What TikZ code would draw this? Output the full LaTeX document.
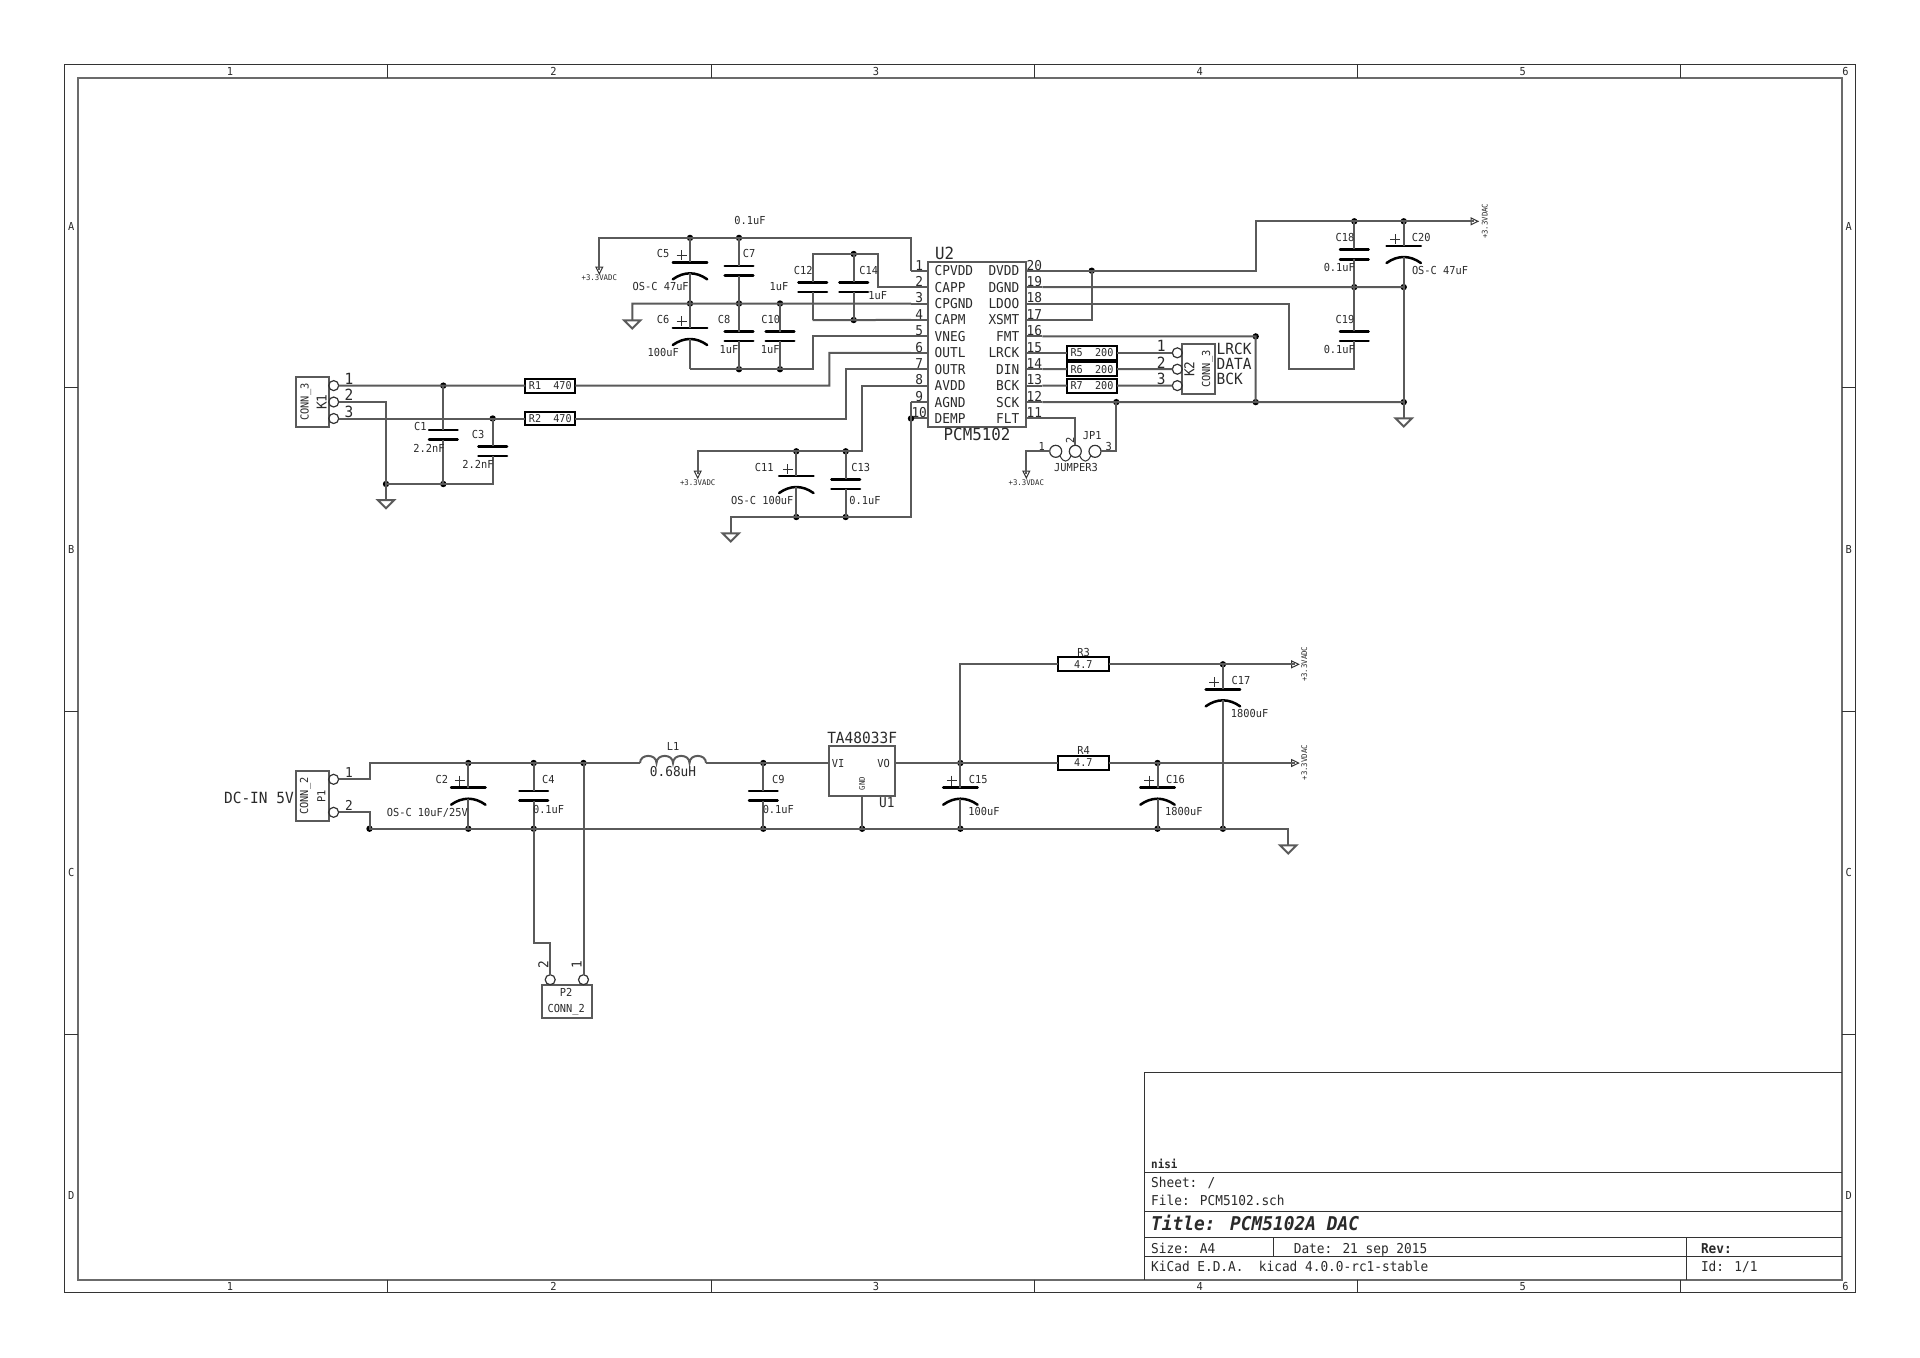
\documentclass[tikz,border=0pt]{standalone}
\usepackage{fontspec}
\setmainfont{DejaVu Sans Mono}[FakeStretch=0.94]
\definecolor{wirec}{HTML}{5A5A5A}
\definecolor{framec}{HTML}{333333}
\definecolor{txtc}{HTML}{2A2A2A}
\tikzset{
  wire/.style={line width=1pt,draw=wirec,line join=miter},
  thinw/.style={line width=.5pt,draw=framec,line join=miter},
  frm/.style={line width=.5pt,draw=framec},
  frmin/.style={line width=1pt,draw=wirec!90},
  plate/.style={line width=1.25pt,draw=black,line cap=round},
  tx/.style={inner sep=0pt,outer sep=0pt,text=txtc},
  fsm/.style={tx,font=\fontsize{3.9}{5}\selectfont,text height=2.84pt,text depth=0pt},
  frs/.style={tx,font=\fontsize{5.4}{6}\selectfont,text height=3.9pt,text depth=0pt},
  lb/.style={tx,font=\fontsize{5.5}{7}\selectfont,text height=4pt,text depth=0pt},
  pn/.style={tx,font=\fontsize{6.8}{8}\selectfont,text height=5pt,text depth=0pt},
  pnb/.style={tx,font=\fontsize{7.7}{9}\selectfont,text height=5.6pt,text depth=0pt},
  big/.style={tx,font=\fontsize{8.4}{10}\selectfont,text height=6.1pt,text depth=0pt},
  tb/.style={tx,anchor=west,font=\fontsize{6.8}{8}\selectfont,text height=5pt,text depth=0pt},
  boxn/.style={draw=wirec,line width=1pt,inner sep=0pt,outer sep=0pt},
  rboxn/.style={draw=black,line width=1pt,inner sep=0pt,outer sep=0pt,frs},
  pinc/.style={circle,draw=framec,line width=.6pt,inner sep=0pt,outer sep=0pt,minimum size=5pt},
  jpc/.style={circle,draw=framec,line width=.6pt,inner sep=0pt,outer sep=0pt,minimum size=6pt},
}
\newcommand\jn[3]{\coordinate (#1) at (#2,#3);\fill[black] (#1) circle (3.2);}
\newcommand\capN[4]{%
  \coordinate (#1t) at (#2,#3);\coordinate (#1b) at (#2,#4);
  \draw[plate] ({#2-14.3},#3) -- ({#2+14.3},#3);
  \draw[plate] ({#2-14.3},#4) -- ({#2+14.3},#4);}
\newcommand\capP[3]{%
  \coordinate (#1t) at (#2,#3);\coordinate (#1b) at (#2,{#3+11});
  \draw[plate] ({#2-17.2},#3) -- ({#2+17.2},#3);
  \draw[plate] ({#2-17.2},{#3+17}) .. controls ({#2-6},{#3+9}) and ({#2+6},{#3+9}) .. ({#2+17.2},{#3+17});
  \draw[thinw] ({#2-13.5},{#3-7}) -- ({#2-3.5},{#3-7});
  \draw[thinw] ({#2-8.5},{#3-12}) -- ({#2-8.5},{#3-2});}
\newcommand\gnd[3]{\coordinate (#1) at (#2,#3);
  \draw[wire] ({#2-8.2},#3) -- ({#2+8.2},#3) -- (#2,{#3+8.2}) -- cycle;}
\newcommand\vflag[3]{\coordinate (#1) at (#2,{#3-4});
  \draw[thinw] ({#2-3.4},{#3-7}) -- ({#2+3.4},{#3-7}) -- (#2,#3) -- cycle;}
\newcommand\hflag[3]{\coordinate (#1) at ({#2-4},#3);
  \draw[thinw] ({#2-7},{#3-3.4}) -- ({#2-7},{#3+3.4}) -- (#2,#3) -- cycle;}
\newcommand\bx[7][boxn]{%
  \pgfmathsetmacro\bxw{(#5-#3)*.5}\pgfmathsetmacro\bxh{(#6-#4)*.5}%
  \pgfmathsetmacro\bxx{(#5+#3)/2}\pgfmathsetmacro\bxy{(#6+#4)/2}%
  \node[#1,minimum width=\bxw pt,minimum height=\bxh pt] (#2) at (\bxx,\bxy) {#7};}
\begin{document}
\begin{tikzpicture}[x=.5pt,y=-.5pt]
\useasboundingbox (0,0) rectangle (1920,1357);
\fill[white] (0,0) rectangle (1920,1357);
% ---------- sheet frame
\coordinate (fo1) at (64.65,64.65);\coordinate (fo2) at (1855.35,1292.4);
\coordinate (fi1) at (77.6,77.6);\coordinate (fi2) at (1842.4,1279.5);
\draw[frm] (fo1) rectangle (fo2);
\draw[frmin] (fi1) rectangle (fi2);
\foreach \x in {387.9,711.1,1034.4,1357.6,1680.8}{
  \draw[frm] (\x,64.65) -- (\x,77.6);
  \draw[frm] (\x,1279.5) -- (\x,1292.4);}
\foreach \y in {387.9,711.1,1034.4}{
  \draw[frm] (64.65,\y) -- (77.6,\y);
  \draw[frm] (1842.4,\y) -- (1855.35,\y);}
\foreach \x/\n in {230/1,553.5/2,876/3,1199.6/4,1522.8/5,1845.5/6}{
  \node[lb] (ct\n) at (\x,71) {\n};
  \node[lb] (cb\n) at (\x,1286) {\n};}
\foreach \y/\n in {226/A,549/B,872.5/C,1195/D}{
  \node[lb] (rl\n) at (71.2,\y) {\n};
  \node[lb] (rr\n) at (1848.8,\y) {\n};}
% ---------- title block
\coordinate (tb1) at (1144.2,1072.7);
\draw[frm] (tb1) -- (1842.4,1072.7);
\draw[frm] (tb1) -- (1144.2,1279.5);
\foreach \y in {1172.7,1211.7,1237.3,1256.7}{\draw[frm] (1144.2,\y) -- (1842.4,\y);}
\draw[frm] (1273,1237.3) -- (1273,1256.7);
\draw[frm] (1686.9,1237.3) -- (1686.9,1279.5);
\node[tb,font=\fontsize{5.8}{8}\selectfont\bfseries] (tnisi) at (1151.2,1163.3) {nisi};
\node[tb] (tsheet) at (1151.2,1182.7) {Sheet: /};
\node[tb] (tfile) at (1151.2,1200.3) {File: PCM5102.sch};
\node[tb,font=\fontsize{9.5}{12}\selectfont\bfseries\itshape,text height=7pt] (ttitle) at (1151.2,1223.3) {Title: PCM5102A DAC};
\node[tb] (tsize) at (1151.2,1248.3) {Size: A4};
\node[tb] (tdate) at (1293.8,1248.3) {Date: 21 sep 2015};
\node[tb,font=\fontsize{6.8}{8}\selectfont\bfseries] (trev) at (1701,1248.3) {Rev:};
\node[tb] (tkicad) at (1151.2,1266.7) {KiCad E.D.A.\ \ kicad 4.0.0-rc1-stable};
\node[tb] (tid) at (1701,1266.7) {Id: 1/1};
% ---------- U2
\bx{U2}{927.7}{262.3}{1026}{426.7}{}
\node[big,anchor=west] (tU2) at (935,253.3) {U2};
\node[big] (tPCM) at (977,434.3) {PCM5102};
\foreach \i/\l/\r in {1/CPVDD/DVDD,2/CAPP/DGND,3/CPGND/LDOO,4/CAPM/XSMT,5/VNEG/FMT,6/OUTL/LRCK,7/OUTR/DIN,8/AVDD/BCK,9/AGND/SCK,10/DEMP/FLT}{
  \pgfmathsetmacro\yy{270.7+16.42*(\i-1)}
  \pgfmathsetmacro\yn{\yy-5.7}
  \pgfmathtruncatemacro\rn{21-\i}
  \coordinate (U2L\i) at (911,\yy);\coordinate (U2Li\i) at (927.7,\yy);
  \coordinate (U2R\i) at (1042.4,\yy);\coordinate (U2Ri\i) at (1026,\yy);
  \draw[wire] (U2L\i) -- (U2Li\i);
  \draw[wire] (U2R\i) -- (U2Ri\i);
  \node[pn,anchor=west] (nL\i) at (934.7,\yy) {\l};
  \node[pn,anchor=east] (nR\i) at (1019.3,\yy) {\r};
  \node[pn] (pL\i) at (919.2,\yn) {\i};
  \node[pn] (pR\i) at (1034.3,\yn) {\rn};
}
% ---------- top-left decoupling
\jn{a1}{690}{237.9}\jn{a2}{739}{237.9}
\jn{b1}{690}{303.5}\jn{b2}{739}{303.5}\jn{b3}{780}{303.5}
\jn{d2}{739}{369.2}\jn{d3}{780}{369.2}
\coordinate (d1) at (690,369.2);\coordinate (p5c) at (812.7,369.2);
\vflag{fA}{599.3}{274}
\gnd{gA}{632.3}{320.3}
\capP{C5}{690}{262.3}\capP{C6}{690}{328}
\capN{C7}{739}{266}{275.7}\capN{C8}{739}{331.7}{341}\capN{C10}{780}{331.7}{341}
\capN{C12}{812.7}{282.3}{292}\capN{C14}{853.7}{282.3}{292}
\jn{e1}{853.7}{254}\jn{e2}{853.7}{320}
\coordinate (c12a) at (812.7,254);\coordinate (c12c) at (812.7,320);\coordinate (c14r) at (878.3,254);
\draw[wire] (U2L1) |- (a2) -- (a1) -| (fA);
\draw[wire] (U2L3) -- (b3) -- (b2) -- (b1) -| (gA);
\draw[wire] (a1) -- (C5t) (C5b) -- (b1) -- (C6t) (C6b) -- (d1);
\draw[wire] (U2L5) -| (p5c) -- (d3) -- (d2) -- (d1);
\draw[wire] (a2) -- (C7t) (C7b) -- (b2) -- (C8t) (C8b) -- (d2);
\draw[wire] (b3) -- (C10t) (C10b) -- (d3);
\draw[wire] (U2L2) -| (c14r) -- (e1) -- (c12a) -- (C12t) (C12b) -- (c12c);
\draw[wire] (U2L4) -- (e2) -- (c12c);
\draw[wire] (e1) -- (C14t) (C14b) -- (e2);
\node[lb] (v01a) at (750,220.7) {0.1uF};
\node[lb] (tC5) at (663,253.3) {C5};
\node[lb] (vC5) at (660.7,286.3) {OS-C 47uF};
\node[lb] (tC7) at (749,253.3) {C7};
\node[lb] (tC6) at (663,319) {C6};
\node[lb] (vC6) at (663.3,352) {100uF};
\node[lb] (tC8) at (724,319) {C8};
\node[lb] (vC8) at (729,349.7) {1uF};
\node[lb] (tC10) at (770.7,319) {C10};
\node[lb] (vC10) at (770.3,349.7) {1uF};
\node[lb] (tC12) at (803.3,270) {C12};
\node[lb] (vC12) at (779,286.7) {1uF};
\node[lb] (tC14) at (868.7,270) {C14};
\node[lb] (vC14) at (877.7,295) {1uF};
\node[fsm] (fAl) at (599.3,277.6) {+3.3VADC};
% ---------- AVDD decoupling
\jn{h1}{796.3}{451.3}\jn{h2}{845.7}{451.3}
\jn{k1}{796.3}{517}\jn{k2}{845.7}{517}
\jn{pin10}{911}{418.5}
\coordinate (p8c) at (862,451.3);\coordinate (p10c) at (911,517);
\vflag{fB}{697.7}{478}
\gnd{gB}{730.7}{533.3}
\capP{C11}{796.3}{476}\capN{C13}{845.7}{479.3}{489}
\draw[wire] (U2L8) -| (p8c) -- (h2) -- (h1) -| (fB);
\draw[wire] (U2L9) -- (pin10) -- (p10c) -- (k2) -- (k1) -| (gB);
\draw[wire] (h1) -- (C11t) (C11b) -- (k1);
\draw[wire] (h2) -- (C13t) (C13b) -- (k2);
\node[lb] (tC11) at (764.3,467) {C11};
\node[lb] (vC11) at (762.3,500) {OS-C 100uF};
\node[lb] (tC13) at (860.7,467) {C13};
\node[lb] (vC13) at (865,500) {0.1uF};
\node[fsm] (fBl) at (697.7,482.7) {+3.3VADC};
% ---------- K1 output
\bx{K1}{296}{377.3}{328.7}{426.7}{}
\node[pinc] (K1a) at (333.7,385.6) {};
\node[pinc] (K1b) at (333.7,402) {};
\node[pinc] (K1c) at (333.7,418.5) {};
\node[pn,rotate=90] (tK1) at (321.7,402) {K1};
\node[lb,rotate=90] (vK1) at (304.7,402) {CONN\_3};
\node[pnb] (K1n1) at (349,379.3) {1};
\node[pnb] (K1n2) at (349,395.3) {2};
\node[pnb] (K1n3) at (349,411.7) {3};
\bx[rboxn]{R1}{525.3}{378.7}{575.3}{392.5}{R1\ \ 470}
\bx[rboxn]{R2}{525.3}{411.6}{575.3}{425.4}{R2\ \ 470}
\jn{m1}{443.3}{385.6}\jn{m2}{492.7}{418.5}
\jn{m3}{386}{484}\jn{m4}{443.3}{484}
\coordinate (m5) at (492.7,484);
\coordinate (p6c) at (829.3,385.6);\coordinate (p7c) at (845.7,418.5);
\capN{C1}{443.3}{430}{439.7}\capN{C3}{492.7}{446.3}{456}
\gnd{gC}{386}{500}
\draw[wire] (K1a.east) -- (m1) -- (R1.west);
\draw[wire] (K1b.east) -| (m3) -- (gC);
\draw[wire] (K1c.east) -- (m2) -- (R2.west);
\draw[wire] (m1) -- (C1t) (C1b) -- (m4);
\draw[wire] (m2) -- (C3t) (C3b) -- (m5) -- (m4) -- (m3);
\draw[wire] (U2L6) -| (p6c) -- (R1.east);
\draw[wire] (U2L7) -| (p7c) -- (R2.east);
\node[lb] (tC1) at (420.3,426) {C1};
\node[lb] (vC1) at (429,448.3) {2.2nF};
\node[lb] (tC3) at (478,434) {C3};
\node[lb] (vC3) at (478,464.7) {2.2nF};
% ---------- right side of U2
\jn{q0}{1091.7}{270.7}
\jn{q1}{1354.3}{221.3}\jn{q2}{1403.7}{221.3}
\jn{q3}{1354.3}{287.1}\jn{q4}{1403.7}{287.1}
\jn{q5}{1255.7}{336.4}
\jn{q6}{1116.3}{402.1}\jn{q7}{1255.7}{402.1}\jn{q8}{1403.7}{402.1}
\coordinate (p20c) at (1255.7,221.3);\coordinate (p18c) at (1288.7,369.2);\coordinate (p18d) at (1354.3,369.2);
\hflag{fC}{1478}{221.3}
\gnd{gD}{1403.7}{418.3}
\capN{C18}{1354.3}{249.3}{259.3}\capN{C19}{1354.3}{331.3}{341}
\capP{C20}{1403.7}{246}
\draw[wire] (U2R1) -- (q0) -| (p20c) -- (q1) -- (q2) -- (fC);
\draw[wire] (q0) |- (U2R4);
\draw[wire] (U2R2) -- (q3) -- (q4);
\draw[wire] (U2R3) -| (p18c) -- (p18d) -- (C19b) (C19t) -- (q3);
\draw[wire] (q1) -- (C18t) (C18b) -- (q3);
\draw[wire] (q2) -- (C20t) (C20b) -- (q4) -- (q8) -- (gD);
\draw[wire] (U2R5) -- (q5) -- (q7);
\draw[wire] (U2R9) -- (q6) -- (q7) -- (q8);
\bx[rboxn]{R5}{1067}{345.9}{1117}{359.7}{R5\ \ 200}
\bx[rboxn]{R6}{1067}{362.3}{1117}{376.1}{R6\ \ 200}
\bx[rboxn]{R7}{1067}{378.7}{1117}{392.5}{R7\ \ 200}
\bx{K2}{1182.3}{344.3}{1215}{394}{}
\node[pinc] (K2a) at (1177.3,352.8) {};
\node[pinc] (K2b) at (1177.3,369.2) {};
\node[pinc] (K2c) at (1177.3,385.6) {};
\draw[wire] (U2R6) -- (R5.west) (R5.east) -- (K2a.west);
\draw[wire] (U2R7) -- (R6.west) (R6.east) -- (K2b.west);
\draw[wire] (U2R8) -- (R7.west) (R7.east) -- (K2c.west);
\node[pn,rotate=90] (tK2) at (1189.3,369.2) {K2};
\node[lb,rotate=90] (vK2) at (1206,369.2) {CONN\_3};
\node[pnb] (K2n1) at (1161.3,346) {1};
\node[pnb] (K2n2) at (1161.3,362.7) {2};
\node[pnb] (K2n3) at (1161.3,379) {3};
\node[pnb,anchor=west] (lLRCK) at (1216.7,349.3) {LRCK};
\node[pnb,anchor=west] (lDATA) at (1216.7,364.3) {DATA};
\node[pnb,anchor=west] (lBCK) at (1216.7,379) {BCK};
\node[lb] (tC18) at (1345,237) {C18};
\node[lb] (vC18) at (1339.3,267.7) {0.1uF};
\node[lb] (tC19) at (1345,319.3) {C19};
\node[lb] (vC19) at (1339.3,349.7) {0.1uF};
\node[lb] (tC20) at (1421.3,237.3) {C20};
\node[lb] (vC20) at (1440,270) {OS-C 47uF};
\node[fsm,rotate=90] (fCl) at (1484.7,221.3) {+3.3VDAC};
% ---------- jumper
\node[jpc] (JPa) at (1055.7,451.3) {};
\node[jpc] (JPb) at (1075.3,451.3) {};
\node[jpc] (JPc) at (1095,451.3) {};
\draw[thinw] (JPa.south east) .. controls (1063,463) and (1068,463) .. (JPb.south west);
\draw[thinw] (JPb.south east) .. controls (1083,463) and (1088,463) .. (JPc.south west);
\vflag{fD}{1026.3}{478}
\draw[wire] (fD) |- (JPa.west);
\draw[wire] (U2R10) -| (JPb.north);
\draw[wire] (JPc.east) -| (q6);
\node[lb] (tJP1) at (1092.3,435) {JP1};
\node[lb] (vJP1) at (1076,467.7) {JUMPER3};
\node[lb] (JPn1) at (1041.7,446) {1};
\node[lb,rotate=90] (JPn2) at (1070,440) {2};
\node[lb] (JPn3) at (1108.7,446) {3};
\node[fsm] (fDl) at (1026.3,482.7) {+3.3VDAC};
% ---------- power input
\bx{P1}{295.7}{771.3}{329}{820.7}{}
\node[pinc] (P1a) at (333.6,779.3) {};
\node[pinc] (P1b) at (333.6,812.3) {};
\node[lb,rotate=90] (vP1) at (304,796) {CONN\_2};
\node[lb,rotate=90] (tP1) at (321.3,796) {P1};
\node[pn] (P1n1) at (348.9,772.7) {1};
\node[pn] (P1n2) at (348.9,805.7) {2};
\node[pnb,anchor=east] (lDC) at (293.8,797.7) {DC-IN 5V};
\jn{r1}{468.3}{763}\jn{r2}{533.7}{763}\jn{r3}{583.5}{763}\jn{r4}{763.3}{763}
\jn{s0}{369.5}{828.7}\jn{s1}{468.3}{828.7}\jn{s2}{533.7}{828.7}\jn{s4}{763.3}{828.7}
\jn{s5}{862.15}{828.7}\jn{s6}{960.4}{828.7}\jn{s7}{1157.5}{828.7}\jn{s8}{1222.9}{828.7}
\coordinate (r0) at (369.5,763);
\coordinate (La) at (640,763);\coordinate (Lb) at (706,763);
\draw[wire] (La) foreach \xa/\xb in {640/656.5,656.5/673,673/689.5,689.5/706}{ .. controls (\xa,753.5) and (\xb,753.5) .. (\xb,763)};
\capP{C2}{468.3}{787.7}\capN{C4}{533.7}{791}{800.7}\capN{C9}{763.3}{791}{800.7}
\capP{C15}{960.4}{787.7}\capP{C16}{1157.5}{787.7}\capP{C17}{1222.9}{689.3}
\bx{U1}{829.3}{746.3}{895}{796}{}
\gnd{gE}{1288.2}{845.3}
\draw[wire] (P1a.east) -| (r0) -- (r1) -- (r2) -- (r3) -- (La);
\draw[wire] (P1b.east) -| (s0) -- (s1) -- (s2) -- (s4) -- (s5) -- (s6) -- (s7) -- (s8) -| (gE);
\draw[wire] (r1) -- (C2t) (C2b) -- (s1);
\draw[wire] (r2) -- (C4t) (C4b) -- (s2);
\draw[wire] (Lb) -- (r4) -- (r4-|U1.west);
\draw[wire] (r4) -- (C9t) (C9b) -- (s4);
\draw[wire] (U1.south) -- (s5);
\node[lb] (tC2) at (441.9,779.3) {C2};
\node[lb] (vC2) at (427.3,812) {OS-C 10uF/25V};
\node[lb] (tC4) at (548.3,779) {C4};
\node[lb] (vC4) at (548.6,809.3) {0.1uF};
\node[lb] (tC9) at (778.3,779) {C9};
\node[lb] (vC9) at (778.3,809.3) {0.1uF};
\node[lb] (tL1) at (673,746) {L1};
\node[pn] (vL1) at (673,771) {0.68uH};
% ---------- P2
\bx{P2}{541.7}{984.7}{591.5}{1017.7}{}
\node[pinc] (P2b) at (550.2,979.7) {};
\node[pinc] (P2a) at (583.5,979.7) {};
\coordinate (p2c) at (550.2,943.3);
\draw[wire] (s2) |- (p2c) -- (P2b.north);
\draw[wire] (r3) -- (P2a.north);
\node[lb] (tP2) at (566.2,992.3) {P2};
\node[lb] (vP2) at (566.2,1008.7) {CONN\_2};
\node[pn,rotate=90] (P2n2) at (543.3,964.3) {2};
\node[pn,rotate=90] (P2n1) at (576.6,964.3) {1};
% ---------- regulator output
\coordinate (U1o) at (895,763);
\jn{t1}{960.4}{763}\jn{t2}{1157.5}{763}\jn{t3}{1222.9}{664.3}
\bx[rboxn]{R3}{1058.2}{657.3}{1108.6}{671.3}{4.7}
\bx[rboxn]{R4}{1058.2}{756}{1108.6}{770}{4.7}
\hflag{fE}{1298.6}{664.3}
\hflag{fF}{1298.6}{763}
\draw[wire] (U1o) -- (t1) -- (R4.west) (R4.east) -- (t2) -- (fF);
\draw[wire] (t1) |- (R3.west);
\draw[wire] (R3.east) -- (t3) -- (fE);
\draw[wire] (t1) -- (C15t) (C15b) -- (s6);
\draw[wire] (t2) -- (C16t) (C16b) -- (s7);
\draw[wire] (t3) -- (C17t) (C17b) -- (s8);
\node[pnb] (tTA) at (862.1,737.7) {TA48033F};
\node[pn] (tU1) at (886.8,802.7) {U1};
\node[lb] (lVI) at (838.2,763) {VI};
\node[lb] (lVO) at (883.6,763) {VO};
\node[fsm,rotate=90] (lGND) at (862.1,783.7) {GND};
\node[lb] (tR3) at (1083.6,652) {R3};
\node[lb] (tR4) at (1083.6,750.7) {R4};
\node[lb] (tC15) at (978.2,779) {C15};
\node[lb] (vC15) at (983.9,811.7) {100uF};
\node[lb] (tC16) at (1175.4,779) {C16};
\node[lb] (vC16) at (1183.9,811.7) {1800uF};
\node[lb] (tC17) at (1241,680.3) {C17};
\node[lb] (vC17) at (1249.6,713) {1800uF};
\node[fsm,rotate=90] (fEl) at (1304.3,664.3) {+3.3VADC};
\node[fsm,rotate=90] (fFl) at (1304.3,762.7) {+3.3VDAC};
\end{tikzpicture}
\end{document}
